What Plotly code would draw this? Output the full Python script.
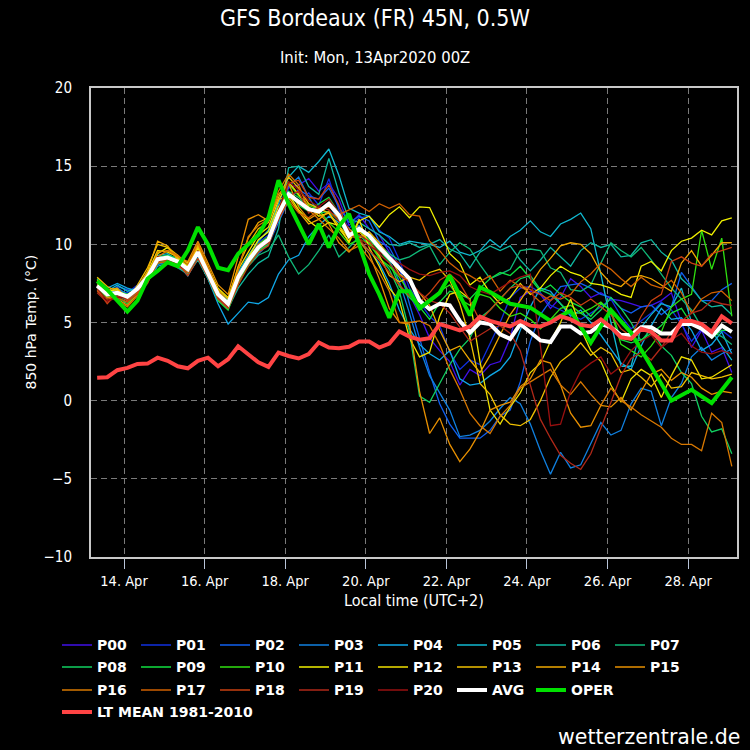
import pandas as pd
import plotly.graph_objects as go

# ---------------- data ----------------
START = "2020-04-13 08:00"   # first forecast step (local time, UTC+2)
N_STEPS = 64                  # 6-hourly steps
times = pd.date_range(START, periods=N_STEPS, freq="6h")

P00 = [7.5, 6.9, 7.1, 6.7, 7.3, 8.0, 9.0, 9.1, 8.8, 8.2, 9.3, 8.0, 6.7, 6.0, 7.6, 8.8,
       9.6, 10.2, 12.0, 13.6, 13.8, 14.2, 13.4, 13.9, 12.9, 11.2, 11.9, 11.0, 10.6, 9.5, 8.4, 6.8,
       5.5, 4.0, 3.2, 2.5, 1.0, 2.0, 1.6, 2.3, 2.5, 4.0, 6.6, 7.0, 6.8, 5.9, 6.6, 7.8,
       7.3, 6.6, 6.9, 6.5, 6.4, 6.2, 6.0, 6.1, 6.4, 6.9, 5.0, 3.4, 4.5, 3.1, 3.4, 1.8]
P01 = [7.2, 6.7, 7.0, 6.9, 7.4, 8.1, 8.9, 9.3, 9.0, 8.3, 9.2, 8.3, 6.9, 6.3, 8.1, 9.2,
       10.1, 10.6, 12.3, 13.2, 12.6, 13.3, 12.5, 14.2, 12.2, 11.0, 11.7, 11.8, 10.9, 10.4, 9.0, 7.2,
       6.3, 5.4, 4.8, 3.1, 2.0, 2.6, 2.3, 3.6, 5.0, 6.6, 7.2, 7.3, 6.9, 6.1, 5.8, 5.5,
       5.2, 5.6, 6.0, 6.5, 5.4, 4.6, 5.1, 5.6, 6.3, 5.8, 4.9, 3.8, 4.6, 4.1, 4.5, 4.0]
P02 = [7.4, 6.6, 7.3, 7.1, 7.0, 7.8, 9.1, 9.0, 8.6, 8.1, 9.6, 8.1, 6.5, 6.1, 7.7, 8.7,
       9.4, 10.0, 11.4, 12.8, 13.5, 13.1, 12.9, 13.6, 12.4, 11.4, 11.8, 11.5, 10.2, 9.8, 8.6, 6.2,
       4.0, 1.8, -0.2, -1.5, -2.4, -2.4, -2.4, -1.9, -1.0, -0.6, 1.2, 3.8, 5.5, 6.4, 7.3, 7.4,
       7.5, 7.2, 6.8, 6.6, 5.9, 5.6, 6.0, 6.1, 5.5, 6.0, 8.2, 7.3, 6.4, 6.4, 7.1, 7.5]
P03 = [7.0, 6.9, 7.2, 6.8, 7.1, 7.7, 8.7, 8.9, 8.7, 8.0, 9.4, 8.4, 7.0, 6.4, 8.0, 9.0,
       9.9, 10.4, 12.4, 13.7, 14.3, 13.0, 12.0, 12.5, 11.6, 10.8, 11.2, 10.5, 9.9, 9.0, 7.6, 5.6,
       3.4, 1.6, 0.5, -0.6, -2.3, -2.2, -1.9, -1.3, -0.5, 0.2, -0.2, -1.5, -3.2, -4.7, -3.3, -4.3,
       -4.1, -2.8, -1.4, -2.2, -1.9, -0.2, 0.8, 0.6, -1.6, 0.2, 1.1, 2.8, 3.4, 2.6, 3.0, 3.3]
P04 = [7.6, 7.2, 7.5, 7.2, 7.0, 7.6, 8.6, 8.8, 8.7, 8.0, 9.1, 7.8, 6.2, 4.9, 5.6, 6.3,
       6.2, 6.6, 8.1, 9.0, 9.3, 10.5, 11.2, 11.8, 11.4, 10.9, 10.2, 9.6, 8.8, 7.5, 5.8, 4.6,
       3.6, 3.0, 2.6, 3.2, 1.4, 1.0, 1.1, 1.6, 2.0, 2.8, 4.5, 6.0, 7.2, 7.0, 6.2, 5.4,
       5.8, 5.0, 4.2, 3.3, 2.4, 2.0, 3.5, 4.8, 5.9, 5.2, 5.3, 4.5, 3.2, 3.6, 4.4, 3.0]
P05 = [7.3, 7.0, 7.4, 7.0, 7.2, 8.0, 9.3, 9.4, 9.0, 8.6, 9.8, 8.3, 6.9, 6.4, 8.2, 9.3,
       10.2, 10.9, 12.6, 14.3, 15.0, 14.6, 15.3, 16.1, 14.4, 12.3, 12.0, 11.8, 10.8, 10.5, 10.0, 10.2,
       10.1, 10.0, 9.8, 10.2, 9.5, 9.3, 9.6, 10.3, 9.8, 10.5, 10.9, 11.5, 10.8, 10.5, 11.3, 11.6,
       12.0, 11.0, 8.1, 5.0, 2.2, 2.2, 4.7, 5.5, 6.2, 6.0, 7.2, 5.0, 4.8, 4.5, 3.5, 2.6]
P06 = [7.1, 6.6, 6.8, 6.5, 7.0, 7.7, 8.8, 9.0, 8.5, 8.1, 9.0, 7.8, 6.4, 5.9, 7.2, 8.1,
       8.8, 9.2, 11.0, 14.9, 15.0, 13.7, 13.2, 15.5, 13.3, 11.6, 11.4, 11.0, 10.6, 10.0, 9.9, 10.1,
       9.8, 10.0, 10.3, 9.7, 9.4, 8.5, 9.5, 9.9, 9.6, 9.9, 9.0, 8.3, 9.0, 9.8, 9.2, 8.6,
       9.6, 10.1, 9.8, 10.0, 9.2, 9.3, 10.1, 10.3, 9.5, 9.0, 7.8, 7.2, 6.4, 6.0, 6.1, 5.5]
P07 = [7.4, 6.9, 6.7, 6.4, 6.9, 7.7, 8.8, 9.2, 8.9, 8.6, 9.7, 8.4, 6.9, 6.2, 7.8, 8.6,
       9.3, 9.6, 10.6, 9.2, 8.1, 8.7, 9.6, 10.6, 9.2, 9.8, 10.5, 10.8, 10.0, 9.4, 9.0, 9.2,
       9.6, 9.9, 8.7, 9.5, 10.1, 9.7, 8.7, 7.8, 8.1, 8.4, 9.6, 9.7, 9.6, 8.5, 8.2, 7.1,
       7.0, 7.4, 8.8, 10.1, 9.6, 9.2, 9.8, 9.0, 8.1, 7.2, 6.5, 5.8, 4.7, 4.4, 4.1, 3.6]
P08 = [7.8, 7.0, 6.9, 6.5, 7.1, 8.1, 9.2, 9.3, 9.1, 8.4, 9.6, 8.1, 6.6, 5.9, 7.7, 8.8,
       9.6, 10.0, 11.7, 13.4, 13.0, 12.3, 12.0, 12.1, 11.5, 10.4, 10.6, 10.0, 9.2, 8.4, 7.0, 4.4,
       0.3, -0.1, 1.1, 2.3, 3.3, 4.0, 5.3, 5.8, 6.5, 7.2, 7.8, 8.0, 7.1, 6.8, 6.2, 5.6,
       5.6, 5.2, 5.8, 6.6, 5.9, 5.0, 3.8, 4.6, 3.5, 2.9, 1.8, 1.1, -1.0, -2.0, -1.8, -3.4]
P09 = [7.3, 6.8, 6.6, 6.2, 6.8, 7.6, 8.8, 8.9, 8.7, 8.2, 9.3, 8.0, 6.4, 5.8, 7.5, 8.7,
       9.5, 10.1, 12.1, 13.3, 12.5, 12.1, 12.6, 13.0, 12.0, 10.6, 10.9, 10.3, 9.6, 8.9, 7.3, 6.6,
       6.0, 5.2, 6.3, 7.0, 6.8, 6.5, 7.2, 7.8, 8.2, 8.0, 8.6, 7.8, 7.0, 7.4, 6.8, 6.3,
       6.0, 5.4, 6.2, 5.8, 3.9, 3.7, 3.9, 4.3, 4.8, 5.6, 5.9, 4.9, 4.6, 4.0, 4.5, 4.5]
P10 = [7.2, 6.6, 7.0, 6.8, 7.2, 8.0, 9.1, 9.2, 8.9, 8.5, 9.4, 8.2, 6.8, 6.3, 8.0, 9.1,
       10.0, 10.5, 12.2, 13.9, 13.1, 12.5, 12.2, 11.4, 10.8, 10.0, 10.3, 10.1, 9.1, 8.6, 7.9, 6.9,
       6.1, 6.4, 7.0, 7.4, 6.5, 6.1, 6.8, 6.6, 5.9, 5.4, 5.6, 5.2, 4.6, 5.2, 5.9, 6.1,
       5.6, 5.9, 6.3, 5.7, 3.6, 3.2, 2.8, 3.5, 4.4, 6.0, 6.5, 6.8, 10.9, 8.4, 10.4, 5.4]
P11 = [7.5, 7.0, 7.1, 6.6, 7.2, 8.0, 9.4, 9.8, 9.1, 8.6, 9.7, 8.3, 6.7, 6.1, 8.0, 9.2,
       10.3, 10.8, 12.4, 13.2, 12.2, 11.5, 11.0, 11.4, 11.2, 10.1, 11.5, 11.8, 11.1, 11.9, 12.4, 11.7,
       12.4, 12.35, 11.0, 9.4, 8.8, 7.4, 7.9, 6.9, 6.2, 6.6, 7.5, 6.8, 7.2, 8.0, 8.6, 8.2,
       8.0, 7.5, 7.4, 7.2, 6.8, 6.6, 8.6, 8.9, 8.3, 9.6, 10.2, 10.4, 10.9, 10.6, 11.5, 11.7]
P12 = [7.6, 6.9, 6.8, 6.5, 7.0, 8.2, 9.6, 9.5, 9.2, 8.8, 9.8, 8.5, 7.2, 6.6, 8.4, 9.5,
       10.6, 11.1, 12.8, 14.0, 13.2, 12.4, 11.8, 12.0, 11.0, 10.2, 11.6, 9.8, 8.6, 7.2, 6.4, 4.0,
       2.8, 3.1, 5.4, 6.8, 7.0, 6.5, 2.5, -0.6, -1.5, -0.4, 0.5, 1.8, 2.4, 3.8, 5.0, 6.5,
       4.6, 3.2, 2.5, 1.0, -0.1, 1.4, 2.0, 1.6, 0.2, 1.6, 2.8, 2.6, 1.4, 1.5, 1.9, 2.3]
P13 = [7.9, 7.3, 7.0, 6.4, 7.4, 8.5, 10.0, 9.8, 9.3, 8.7, 9.9, 8.6, 7.1, 6.5, 8.6, 10.0,
       11.0, 11.4, 13.0, 14.3, 13.6, 12.6, 12.3, 12.0, 11.2, 10.4, 10.8, 10.2, 9.3, 8.0, 7.6, 7.9,
       7.7, 8.2, 8.4, 7.7, 6.2, 4.0, 1.1, 0.4, -0.9, -1.5, -1.6, -1.2, 0.0, 1.5, 2.5, 3.0,
       3.7, 2.9, 3.4, 3.0, 1.8, 2.0, 1.5, 0.9, 1.7, 0.8, 0.9, 1.8, 1.6, 1.4, 1.5, 1.7]
P14 = [7.7, 7.1, 7.2, 6.5, 7.2, 8.3, 10.2, 9.9, 9.0, 8.5, 10.0, 8.4, 7.0, 6.3, 8.5, 10.4,
       11.4, 11.7, 12.9, 13.0, 12.1, 11.3, 11.6, 12.1, 11.7, 11.0, 10.4, 10.8, 10.1, 9.2, 8.1, 7.6,
       6.9, 6.1, 4.5, 3.2, 3.5, 2.6, 1.8, 2.9, 4.2, 5.5, 6.4, 7.4, 8.4, 9.1, 9.9, 10.1,
       10.0, 9.4, 8.2, 7.5, 7.3, 7.9, 8.0, 7.8, 7.4, 7.0, 8.8, 9.6, 8.6, 9.3, 10.1, 10.1]
P15 = [7.6, 6.6, 6.5, 6.1, 6.8, 7.9, 9.5, 9.6, 9.2, 8.9, 10.2, 8.8, 7.4, 6.8, 9.2, 11.6,
       11.9, 11.5, 13.2, 13.9, 12.4, 11.6, 12.0, 11.3, 10.1, 9.5, 10.2, 9.4, 7.8, 5.9, 5.0, 4.9,
       0.6, -2.1, -1.1, -2.8, -3.9, -3.1, -2.0, -0.6, -0.3, -0.1, 0.9, 1.4, 2.6, 2.4, 1.0, -0.8,
       -1.7, -1.6, -0.3, -0.4, 0.2, -0.6, 0.6, 1.7, 2.0, 1.3, 1.8, 1.5, 0.8, 0.4, 0.6, 0.5]
P16 = [7.4, 6.8, 6.4, 6.0, 6.7, 7.6, 9.2, 9.6, 9.3, 8.7, 10.1, 8.6, 7.0, 6.2, 8.4, 10.5,
       11.2, 11.6, 13.4, 14.5, 13.8, 12.2, 11.6, 11.0, 10.4, 9.6, 9.9, 9.1, 8.2, 7.0, 5.0, 5.0,
       5.1, 4.8, 3.6, 2.0, 0.7, -0.8, -1.6, -2.1, -1.0, -0.3, 0.8, 1.2, 1.6, 2.0, 1.0, 0.4,
       1.2, 0.4, -0.3, 0.8, 0.0, -0.4, -0.9, -1.3, -1.7, -2.4, -2.8, -2.8, -3.2, -0.8, -1.4, -4.2]
P17 = [7.0, 6.5, 6.6, 6.3, 6.9, 7.6, 8.8, 8.9, 8.6, 8.2, 9.4, 8.1, 6.6, 6.0, 7.6, 9.0,
       10.0, 10.2, 11.6, 12.8, 12.0, 11.7, 12.2, 12.4, 11.9, 12.2, 12.5, 12.1, 12.6, 12.3, 12.6, 11.9,
       11.8, 10.2, 9.6, 8.8, 8.3, 8.0, 7.6, 8.0, 7.0, 7.7, 7.3, 6.9, 6.3, 6.7, 6.5, 6.8,
       7.6, 8.1, 8.8, 8.4, 7.8, 7.3, 7.9, 7.4, 7.2, 7.7, 6.9, 5.6, 6.5, 6.9, 7.0, 6.4]
P18 = [7.1, 6.2, 6.9, 6.4, 6.8, 7.5, 8.9, 9.0, 8.8, 8.0, 9.1, 7.9, 6.5, 5.9, 7.4, 8.6,
       9.5, 9.9, 11.8, 13.9, 14.1, 13.0, 12.9, 13.8, 12.5, 10.6, 10.3, 9.6, 9.0, 8.2, 7.4, 6.7,
       6.3, 6.9, 7.7, 8.1, 7.5, 6.4, 5.1, 5.8, 6.5, 7.2, 7.4, 7.1, 6.8, 6.4, 6.9, 6.6,
       6.1, 6.5, 6.0, 5.5, 4.6, 4.1, 5.4, 6.4, 6.8, 8.9, 9.2, 8.8, 8.6, 9.4, 9.6, 9.8]
P19 = [6.9, 6.3, 6.7, 6.5, 7.0, 7.8, 9.0, 9.2, 8.9, 8.3, 9.5, 8.0, 6.6, 6.0, 7.7, 8.9,
       9.7, 10.1, 11.6, 13.1, 13.4, 12.0, 12.4, 12.2, 11.5, 10.8, 10.6, 10.2, 9.4, 8.8, 8.0, 7.6,
       6.9, 6.4, 6.2, 5.6, 4.7, 3.8, 4.2, 4.6, 4.8, 4.3, 3.2, 1.0, -1.2, -2.4, -3.5, -4.0,
       -4.4, -3.4, -1.8, -0.1, 1.6, 2.7, 3.1, 2.6, 3.4, 4.4, 5.1, 5.6, 5.8, 6.4, 6.2, 6.1]
P20 = [7.2, 6.4, 6.6, 6.6, 7.1, 7.9, 9.2, 9.0, 8.7, 8.3, 9.6, 8.3, 6.8, 6.1, 7.9, 8.8,
       9.9, 10.4, 12.2, 14.0, 13.5, 12.8, 12.4, 12.9, 12.0, 10.9, 10.4, 9.9, 9.5, 9.2, 8.8, 8.4,
       8.1, 8.0, 8.2, 8.3, 8.0, 7.3, 7.0, 6.8, 7.2, 7.6, 7.9, 8.1, 3.5, -1.6, -1.5, 0.6,
       1.9, 2.4, 2.8, 1.7, 2.2, 3.2, 3.8, 4.2, 3.4, 3.9, 4.3, 3.5, 3.1, 3.0, 3.2, 3.0]

AVG = [7.35, 6.8, 6.9, 6.65, 7.15, 7.9, 9.05, 9.15, 8.9, 8.4, 9.5, 8.2, 6.8, 6.2, 7.9, 8.95,
       9.8, 10.3, 11.95, 13.2, 12.7, 12.25, 12.1, 12.6, 11.85, 10.55, 11.0, 10.55, 9.8, 9.15, 8.5, 7.8,
       6.4, 5.85, 6.2, 6.1, 5.1, 4.35, 5.0, 4.9, 4.25, 3.95, 4.9, 4.35, 3.85, 3.75, 4.75, 4.75,
       4.3, 4.4, 4.9, 4.7, 4.2, 4.2, 4.7, 4.7, 4.3, 4.3, 4.9, 4.9, 4.6, 4.1, 4.8, 4.4]
# operational run: 12-hourly after day 10 (None = no value at that step)
OPER = [7.65, 7.1, 6.4, 5.7, 6.4, 7.8, 8.3, 8.85, 8.6, 9.6, 11.1, 10.0, 8.5, 8.35, 9.4, 10.0,
        10.6, 11.7, 14.1, 12.6, 11.3, 10.0, 11.3, 9.8, 11.15, 11.95, 10.0, 8.1, 6.8, 5.3, 7.0, 7.0,
        5.9, 6.4, 6.9, 8.0, 6.7, 5.45, 7.25, 6.95, None, 6.2, None, 5.95, None, 5.1, None, 5.75,
        None, 3.7, None, 5.8, None, 4.35, None, 2.2, None, 0.0, None, 0.7, None, -0.15, None, 1.5]
LT_MEAN = [1.47, 1.5, 1.95, 2.1, 2.35, 2.37, 2.75, 2.55, 2.2, 2.07, 2.55, 2.75, 2.2, 2.65, 3.48, 3.0,
           2.45, 2.16, 3.07, 2.86, 2.7, 2.98, 3.72, 3.4, 3.36, 3.45, 3.78, 3.78, 3.4, 3.65, 4.42, 4.1,
           3.9, 4.0, 4.9, 4.7, 4.5, 4.75, 5.37, 5.1, 4.9, 4.75, 5.1, 4.8, 4.75, 5.0, 5.4, 5.2,
           4.85, 4.75, 5.2, 4.7, 4.05, 3.95, 4.6, 4.4, 3.85, 3.85, 5.1, 5.1, 4.9, 4.4, 5.4, 4.95]

MEMBER_NAMES = ["P%02d" % i for i in range(21)]
MEMBERS = [P00, P01, P02, P03, P04, P05, P06, P07, P08, P09, P10,
           P11, P12, P13, P14, P15, P16, P17, P18, P19, P20]
MEMBER_COLORS = ["#4010e8", "#1030e0", "#1060f0", "#1080e0", "#10a8e8", "#10b8d0",
                 "#10b8a0", "#10b878", "#10d060", "#10e040", "#30e010", "#f0f000",
                 "#f0e000", "#f0c000", "#f0a800", "#e89000", "#d87800", "#d06000",
                 "#c84010", "#b02818", "#981010"]

TITLE = "GFS Bordeaux (FR) 45N, 0.5W"
SUBTITLE = "Init: Mon, 13Apr2020 00Z"
Y_TITLE = "850 hPa Temp. (°C)"
X_TITLE = "Local time (UTC+2)"
CREDIT = "wetterzentrale.de"

COND = "DejaVu Sans Condensed, Liberation Sans Narrow, DejaVu Sans, sans-serif"
REG = "DejaVu Sans, Verdana, sans-serif"

# ---------------- figure ----------------
fig = go.Figure()

# legend rows: P00-P07 / P08-P15 / P16-OPER / LT MEAN
def legend_for(idx):
    if idx < 8:
        return "legend"
    if idx < 16:
        return "legend2"
    return "legend3"

for i, (name, vals, col) in enumerate(zip(MEMBER_NAMES, MEMBERS, MEMBER_COLORS)):
    fig.add_trace(go.Scatter(x=times, y=vals, mode="lines", name=name,
                             line=dict(color=col, width=1.3),
                             legend=legend_for(i)))

fig.add_trace(go.Scatter(x=times, y=AVG, mode="lines", name="AVG",
                         line=dict(color="#ffffff", width=4), legend="legend3"))
fig.add_trace(go.Scatter(x=times, y=OPER, mode="lines", name="OPER", connectgaps=True,
                         line=dict(color="#00e000", width=4), legend="legend3",
                         legendwidth=60))
fig.add_trace(go.Scatter(x=times, y=LT_MEAN, mode="lines", name="LT MEAN 1981-2010",
                         line=dict(color="#ff4444", width=4), legend="legend4",
                         legendwidth=190))

L, R, T, B = 91, 13, 88, 193
W = H = 750
pw, ph = W - L - R, H - T - B

def px_x(p):
    return (p - L) / pw

def px_y(p):
    return (H - B - p) / ph

leg_common = dict(orientation="h", xanchor="left", yanchor="top",
                  x=px_x(57), entrywidth=34, entrywidthmode="pixels",
                  bgcolor="rgba(0,0,0,0)", borderwidth=0, itemclick=False,
                  itemdoubleclick=False,
                  font=dict(family=REG, size=14, color="#ffffff", weight="bold"))
row_centres = [645, 667, 690, 712]
legends = {}
for k, name in enumerate(["legend", "legend2", "legend3", "legend4"]):
    legends[name] = dict(leg_common, y=px_y(row_centres[k] - 15.6))

fig.update_layout(
    width=W, height=H,
    paper_bgcolor="#000000", plot_bgcolor="#000000",
    margin=dict(l=L, r=R, t=T, b=B, autoexpand=False),
    showlegend=True,
    title=dict(text=TITLE, x=0.5, xref="container", xanchor="center",
               y=1 - 18 / H, yref="container", yanchor="middle",
               font=dict(family=COND, size=23, color="#ffffff")),
    font=dict(family=COND, color="#ffffff"),
    **legends,
)

fig.update_xaxes(
    type="date",
    range=["2020-04-13 04:20", "2020-04-29 05:05"],
    tick0="2020-04-14", dtick=2 * 86400000, tickformat="%d. %b",
    ticks="outside", ticklen=10, tickcolor="#b8c4d8", tickwidth=1,
    tickfont=dict(family=COND, size=14.5, color="#ffffff"),
    showgrid=True, gridcolor="#7a7a7a", gridwidth=1, griddash="6px,4px",
    showline=True, linecolor="#c8c8c8", linewidth=2, mirror=True,
    zeroline=False,
)
fig.update_yaxes(
    range=[-10, 20], tick0=-10, dtick=5,
    ticks="outside", ticklen=14, tickcolor="rgba(0,0,0,0)",
    tickfont=dict(family=COND, size=15, color="#ffffff"),
    showgrid=True, gridcolor="#7a7a7a", gridwidth=1, griddash="6px,4px",
    showline=True, linecolor="#c8c8c8", linewidth=2, mirror=True,
    zeroline=False,
)

fig.add_annotation(text=SUBTITLE, xref="paper", yref="paper",
                   x=px_x(375), y=px_y(57), xanchor="center", yanchor="middle",
                   showarrow=False, font=dict(family=COND, size=16.5, color="#ffffff"))
fig.add_annotation(text=Y_TITLE, xref="paper", yref="paper", textangle=-90,
                   x=px_x(30), y=0.5, xanchor="center", yanchor="middle",
                   showarrow=False, font=dict(family=REG, size=14, color="#ffffff"))
fig.add_annotation(text=X_TITLE, xref="paper", yref="paper",
                   x=0.5, y=px_y(600), xanchor="center", yanchor="middle",
                   showarrow=False, font=dict(family=COND, size=16, color="#ffffff"))
fig.add_annotation(text=CREDIT, xref="paper", yref="paper",
                   x=px_x(742), y=px_y(737), xanchor="right", yanchor="middle",
                   showarrow=False, font=dict(family=REG, size=20.5, color="#ffffff"))

fig.write_html("out.html",
               config={"displayModeBar": False},
               post_script="document.body.style.margin='0px';document.body.style.padding='0px';")
